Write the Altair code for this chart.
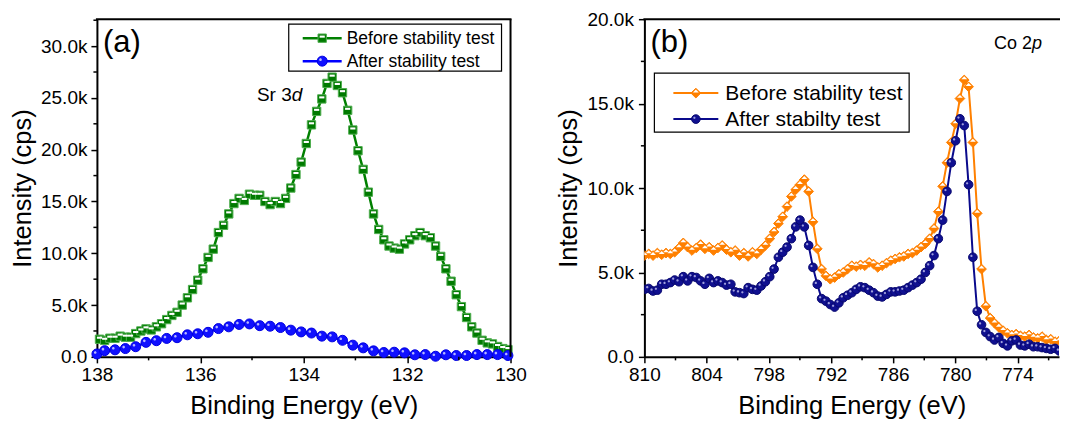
import altair as alt
import pandas as pd

FONT = "Liberation Sans"

# ---------------- Panel (a): Sr 3d ----------------
sr_x_ticks = [138, 136, 134, 132, 130]
sr_x_minor = [137, 135, 133, 131]
sr_y_ticks = [0, 5000, 10000, 15000, 20000, 25000, 30000]
sr_y_minor = [2500, 7500, 12500, 17500, 22500, 27500, 32500]

sr_before_be = [round(137.95 - 0.1 * i, 2) for i in range(80)]
sr_before_kcps = [1.7, 1.6, 1.8, 1.8, 2.0, 1.9, 1.9, 2.25, 2.5, 2.7,
                  2.6, 2.9, 3.2, 3.6, 4.0, 4.3, 5.0, 5.7, 6.5, 7.4,
                  8.5, 9.6, 10.4, 12.0, 12.7, 13.8, 14.8, 15.3, 15.1, 15.7,
                  15.6, 15.6, 15.0, 14.7, 15.0, 14.8, 15.3, 16.3, 17.6, 18.8,
                  20.6, 22.4, 23.7, 24.9, 26.4, 27.0, 26.2, 25.5, 23.8, 21.9,
                  19.9, 18.1, 15.9, 13.8, 12.3, 11.3, 10.7, 10.5, 10.4, 10.9,
                  11.3, 11.7, 12.0, 11.7, 11.5, 10.7, 9.7, 8.5, 7.3, 6.0,
                  4.85, 3.8, 2.9, 2.3, 1.6, 1.35, 1.25, 1.0, 0.8, 0.7]

sr_after_be = [138.0] + [round(137.85 - 0.2 * k, 2) for k in range(40)]
sr_after_kcps = [0.28, 0.6, 0.68, 0.8, 0.98, 1.4, 1.56, 1.78, 1.85, 2.13,
                 2.23, 2.37, 2.73, 2.9, 3.13, 3.18, 3.01, 2.96, 2.83, 2.58,
                 2.41, 2.3, 2.0, 1.93, 1.6, 1.13, 0.87, 0.58, 0.42, 0.45,
                 0.39, 0.2, 0.22, 0.06, 0.2, 0.13, 0.13, 0.22, 0.22, 0.22, 0.13]

# ---------------- Panel (b): Co 2p ----------------
co_x_ticks = [810, 804, 798, 792, 786, 780, 774]
co_x_minor = [807, 801, 795, 789, 783, 777, 771]
co_y_ticks = [0, 5000, 10000, 15000, 20000]
co_y_minor = [2500, 7500, 12500, 17500]

co_step = 0.417
co_before_kcps = [6.0, 6.1, 6.0, 6.15, 6.05, 6.15, 6.1, 6.2, 6.45, 6.75,
                  6.5, 6.3, 6.45, 6.65, 6.4, 6.5, 6.3, 6.45, 6.6, 6.35,
                  6.2, 6.3, 6.0, 6.15, 5.95, 6.2, 6.1, 6.35, 6.6, 7.0,
                  7.4, 7.9, 8.3, 8.9, 9.5, 9.9, 10.2, 10.5, 9.8, 8.0,
                  6.4, 5.2, 4.8, 4.6, 4.7, 4.9, 5.0, 5.2, 5.4, 5.35,
                  5.45, 5.4, 5.6, 5.5, 5.3, 5.4, 5.55, 5.7, 5.8, 5.9,
                  5.95, 6.1, 6.15, 6.3, 6.5, 6.7, 7.0, 7.6, 8.6, 10.1,
                  11.5, 12.7, 13.8, 15.3, 16.4, 16.0, 12.7, 8.5, 5.2, 3.0,
                  2.3, 2.0, 1.75, 1.55, 1.4, 1.3, 1.35, 1.25, 1.2, 1.3,
                  1.15, 1.1, 1.2, 1.0, 1.05, 0.9, 0.95, 0.85, 0.8, 0.85,
                  0.7]
co_after_kcps = [4.0, 4.05, 3.9, 3.95, 4.3, 4.3, 4.4, 4.55, 4.45, 4.75,
                 4.5, 4.75, 4.7, 4.5, 4.3, 4.65, 4.4, 4.5, 4.4, 4.25,
                 4.3, 3.85, 3.8, 3.75, 4.1, 4.0, 3.95, 4.2, 4.45, 4.75,
                 5.2, 5.9, 6.2, 6.5, 7.0, 7.7, 8.1, 7.7, 6.6, 5.3,
                 4.3, 3.45, 3.3, 3.1, 2.95, 3.2, 3.5, 3.65, 3.8, 4.0,
                 4.15, 4.1, 3.95, 3.8, 3.6, 3.55, 3.7, 3.85, 3.85, 3.9,
                 3.95, 4.1, 4.25, 4.4, 4.6, 5.0, 5.4, 6.0, 7.0, 8.1,
                 9.8, 11.5, 12.8, 14.1, 13.7, 10.2, 5.9, 2.7, 1.9, 1.45,
                 1.2, 1.0, 1.15, 0.8, 0.65, 0.95, 1.0, 0.7, 0.65, 0.75,
                 0.6, 0.6, 0.55, 0.5, 0.45, 0.5, 0.35, 0.45, 0.25, 0.1,
                 0.05]
co_before_be = [round(810 - co_step * i, 3) for i in range(len(co_before_kcps))]
co_after_be = [round(810 - co_step * i, 3) for i in range(len(co_after_kcps))]

# ---------------- marker shapes ----------------
SQUARE = "M-1,-1L1,-1L1,1L-1,1Z"
SQUARE_BAR = "M-0.62,-0.62L0.62,-0.62L0.62,-0.12L-0.62,-0.12Z"
DIAMOND = "M-1,0L0,-1L1,0L0,1Z"
DIAMOND_TOP = "M-0.6,-0.14L0,-0.74L0.6,-0.14Z"
SPOT = "M-0.6,-0.3A0.26,0.26,0,1,1,-0.08,-0.3A0.26,0.26,0,1,1,-0.6,-0.3Z"

LABEL_EXPR = "datum.value == 0 ? '0.0' : format(datum.value / 1000, '.1f') + 'k'"
ONE = pd.DataFrame({"d": [0]})


def panel(W, H, xdom, ydom, xticks, xminor, yticks, yminor, series,
          texts, legend, right_frame, clip, label_pad_y):
    xs = alt.Scale(domain=xdom, reverse=True, nice=False, zero=False)
    ys = alt.Scale(domain=ydom, nice=False, zero=False)
    common = dict(domainColor="black", domainWidth=2, tickColor="black",
                  tickWidth=1.5, tickSize=6, labelColor="black", labelFont=FONT,
                  labelFontSize=19, titleFont=FONT, titleFontSize=25.5,
                  titleFontWeight="normal", titleColor="black", grid=False,
                  labelFlush=False, labelOverlap=False)
    x_axis = alt.Axis(values=xticks, format="d", title="Binding Energy (eV)",
                      labelPadding=3, titlePadding=9, **common)
    y_axis = alt.Axis(values=yticks, labelExpr=LABEL_EXPR, title="Intensity (cps)",
                      labelPadding=label_pad_y, titlePadding=5, **common)

    def X():
        return alt.X("x:Q", scale=xs, axis=x_axis)

    def Y():
        return alt.Y("y:Q", scale=ys, axis=y_axis)

    layers = []
    for s in series:
        df = pd.DataFrame({"x": s["x"], "y": [v * 1000 for v in s["y"]]})
        base = alt.Chart(df)
        layers.append(base.mark_line(color=s["color"], strokeWidth=s["lw"], clip=clip)
                      .encode(x=X(), y=Y()))
        layers.append(base.mark_point(shape=s["shape"], filled=True, fill=s["fill"],
                                      stroke=s["stroke"], strokeWidth=1, size=s["size"],
                                      opacity=1, clip=clip)
                      .encode(x=X(), y=Y()))
        layers.append(base.mark_point(shape=s["inner"], filled=True, fill=s["inner_fill"],
                                      strokeWidth=0, size=s["size"], opacity=1, clip=clip)
                      .encode(x=X(), y=Y()))

    # minor ticks
    layers.append(alt.Chart(pd.DataFrame({"x": xminor})).mark_rule(color="black", strokeWidth=1.5)
                  .encode(x=X(), y=alt.value(H), y2=alt.value(H + 3.5)))
    layers.append(alt.Chart(pd.DataFrame({"y": yminor})).mark_rule(color="black", strokeWidth=1.5)
                  .encode(y=Y(), x=alt.value(0), x2=alt.value(-3.5)))
    # frame
    layers.append(alt.Chart(ONE).mark_rule(color="black", strokeWidth=2)
                  .encode(x=alt.value(-1), x2=alt.value(W + 1), y=alt.value(0)))
    if right_frame:
        layers.append(alt.Chart(ONE).mark_rule(color="black", strokeWidth=2)
                      .encode(x=alt.value(W), y=alt.value(0), y2=alt.value(H)))

    # annotation texts
    for t in texts:
        layers.append(alt.Chart(ONE).mark_text(text=t["text"], font=FONT, fontSize=t["size"],
                                               fontStyle=t.get("style", "normal"),
                                               align=t["align"], baseline="middle", color="black")
                      .encode(x=alt.value(t["x"]), y=alt.value(t["y"])))

    # legend
    lg = legend
    layers.append(alt.Chart(ONE).mark_rect(fill="white", stroke="black", strokeWidth=1.2)
                  .encode(x=alt.value(lg["x0"]), x2=alt.value(lg["x1"]),
                          y=alt.value(lg["y0"]), y2=alt.value(lg["y1"])))
    for s, ey in zip(series, lg["ys"]):
        layers.append(alt.Chart(ONE).mark_rule(color=s["color"], strokeWidth=s["lw"])
                      .encode(x=alt.value(lg["l0"]), x2=alt.value(lg["l1"]), y=alt.value(ey)))
        cx = (lg["l0"] + lg["l1"]) / 2
        layers.append(alt.Chart(ONE).mark_point(shape=s["shape"], filled=True, fill=s["fill"],
                                                stroke=s["stroke"], strokeWidth=1,
                                                size=s["size"], opacity=1)
                      .encode(x=alt.value(cx), y=alt.value(ey)))
        layers.append(alt.Chart(ONE).mark_point(shape=s["inner"], filled=True,
                                                fill=s["inner_fill"], strokeWidth=0,
                                                size=s["size"], opacity=1)
                      .encode(x=alt.value(cx), y=alt.value(ey)))
        layers.append(alt.Chart(ONE).mark_text(text=s["name"], font=FONT, fontSize=lg["fs"],
                                               align="left", baseline="middle", color="black")
                      .encode(x=alt.value(lg["tx"]), y=alt.value(ey + 1)))

    return alt.layer(*layers).properties(width=W, height=H)


sr_series = [
    dict(x=sr_before_be, y=sr_before_kcps, name="Before stability test", color="#008000",
         lw=2.5, shape=SQUARE, fill="#007a00", stroke="#4fae4f", size=70,
         inner=SQUARE_BAR, inner_fill="#ffffff"),
    dict(x=sr_after_be, y=sr_after_kcps, name="After stability test", color="#0000ff",
         lw=2.5, shape="circle", fill="#1010ff", stroke="#0000e0", size=100,
         inner=SPOT, inner_fill="#b8b8ff"),
]
co_series = [
    dict(x=co_before_be, y=co_before_kcps, name="Before stability test", color="#ff8000",
         lw=2, shape=DIAMOND, fill="#ff8000", stroke="#ff8000", size=95,
         inner=DIAMOND_TOP, inner_fill="#ffffff"),
    dict(x=co_after_be, y=co_after_kcps, name="After stabilty test", color="#0a0a8c",
         lw=2, shape="circle", fill="#101090", stroke="#08086e", size=75,
         inner=SPOT, inner_fill="#a0a0dc"),
]

pa = panel(414, 338, [130, 138], [0, 32600], sr_x_ticks, sr_x_minor, sr_y_ticks, sr_y_minor,
           sr_series,
           texts=[dict(text="(a)", x=6, y=24, size=31, align="left"),
                  dict(text="Sr 3", x=195, y=76, size=19, align="right"),
                  dict(text="d", x=195, y=76, size=19, align="left", style="italic")],
           legend=dict(x0=192, x1=405, y0=5, y1=52, l0=206, l1=245, ys=[19, 42], tx=250, fs=17.5),
           right_frame=True, clip=False, label_pad_y=4)

pb = panel(415, 338, [770, 810], [0, 20000], co_x_ticks, co_x_minor, co_y_ticks, co_y_minor,
           co_series,
           texts=[dict(text="(b)", x=6, y=24, size=31, align="left"),
                  dict(text="Co 2", x=388, y=25, size=18, align="right"),
                  dict(text="p", x=388, y=25, size=18, align="left", style="italic")],
           legend=dict(x0=10, x1=265, y0=54, y1=113, l0=29, l1=74, ys=[74, 100], tx=81, fs=21),
           right_frame=False, clip=True, label_pad_y=5)

chart = (alt.hconcat(pa, pb, spacing=30)
         .properties(padding={"left": 2, "top": 2, "right": 0, "bottom": 0},
                     background="white")
         .configure_view(strokeWidth=0))

chart.save("out.html", embed_options={"renderer": "svg", "actions": False})
